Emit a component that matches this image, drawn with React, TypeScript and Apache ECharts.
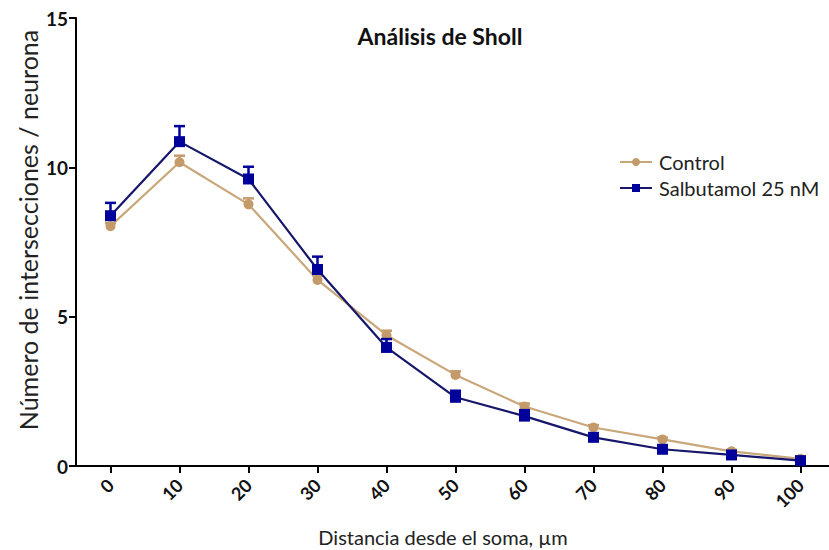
import React, { useEffect, useRef } from "react";
import * as echarts from "echarts";

const distances = [0, 10, 20, 30, 40, 50, 60, 70, 80, 90, 100];
const controlMean = [8.03, 10.17, 8.76, 6.23, 4.38, 3.05, 1.99, 1.29, 0.89, 0.49, 0.24];
const controlSem = [0.1, 0.22, 0.2, 0.15, 0.15, 0.12, 0.1, 0.08, 0.06, 0.05, 0.04];
const salbMean = [8.38, 10.86, 9.61, 6.58, 3.97, 2.3, 1.67, 0.96, 0.56, 0.37, 0.18];
const salbSem = [0.43, 0.52, 0.41, 0.43, 0.28, 0.22, 0.2, 0.12, 0.08, 0.06, 0.05];
const yTicks = [0, 5, 10, 15];

const TITLE = "Análisis de Sholl";
const X_NAME = "Distancia desde el soma, µm";
const Y_NAME = "Número de intersecciones / neurona";

const FONT = "Lato";
const CONTROL_LINE = "#c9a77a";
const CONTROL_MARK = "#c49a6a";
const SALB_LINE = "#16166a";
const SALB_MARK = "#00009a";

function errorSeries(means: number[], sems: number[], color: string, z: number) {
  return {
    type: "custom",
    z,
    silent: true,
    data: distances.map((d, i) => [d, means[i], sems[i]]),
    renderItem: (_params: any, api: any) => {
      const x = api.value(0);
      const y = api.value(1);
      const e = api.value(2);
      const p = api.coord([x, y]);
      const t = api.coord([x, y + e]);
      return {
        type: "group",
        children: [
          { type: "line", shape: { x1: p[0], y1: p[1], x2: t[0], y2: t[1] }, style: { stroke: color, lineWidth: 2.5 } },
          { type: "line", shape: { x1: t[0] - 5.5, y1: t[1], x2: t[0] + 5.5, y2: t[1] }, style: { stroke: color, lineWidth: 2.5 } },
        ],
      };
    },
  };
}

export default function App() {
  const ref = useRef<HTMLDivElement>(null);
  useEffect(() => {
    if (!ref.current) return;
    const chart = echarts.init(ref.current, undefined, { renderer: "svg" });
    chart.setOption({
      animation: false,
      backgroundColor: "#ffffff",
      graphic: [
        {
          type: "text",
          x: 440,
          y: 36,
          style: {
            text: TITLE,
            fontFamily: FONT,
            fontSize: 23,
            fontWeight: "bold",
            fill: "#111",
            align: "center",
            verticalAlign: "middle",
          },
        },
        {
          type: "text",
          x: 443,
          y: 537,
          style: {
            text: X_NAME,
            fontFamily: FONT,
            fontSize: 20,
            fill: "#222",
            align: "center",
            verticalAlign: "middle",
          },
        },
        {
          type: "text",
          x: 28,
          y: 230,
          rotation: Math.PI / 2,
          style: {
            text: Y_NAME,
            fontFamily: FONT,
            fontSize: 25,
            fill: "#222",
            align: "center",
            verticalAlign: "middle",
          },
        },
      ],
      legend: {
        left: 614,
        top: 147,
        orient: "vertical",
        itemGap: 6,
        itemWidth: 32,
        itemHeight: 10,
        data: ["Control", "Salbutamol 25 nM"],
        textStyle: { fontFamily: FONT, fontSize: 20, color: "#222", padding: [0, 0, 0, 2] },
      },
      grid: { left: 76, top: 18, width: 759, height: 448, containLabel: false, outerBoundsMode: "none" },
      xAxis: {
        type: "value",
        min: -5,
        max: 105,
        splitLine: { show: false },
        axisLine: { show: true, onZero: false, lineStyle: { color: "#000", width: 2 } },
        axisTick: { show: true, customValues: distances, length: 7, lineStyle: { color: "#000", width: 2 } },
        axisLabel: {
          customValues: distances,
          rotate: 45,
          fontFamily: FONT,
          fontSize: 18,
          fontWeight: "bold",
          color: "#111",
          margin: 16,
        },
      },
      yAxis: {
        type: "value",
        min: 0,
        max: 15,
        interval: 5,
        splitLine: { show: false },
        axisLine: { show: true, onZero: false, lineStyle: { color: "#000", width: 2 } },
        axisTick: { show: true, length: 7, lineStyle: { color: "#000", width: 2 } },
        axisLabel: {
          customValues: yTicks,
          fontFamily: FONT,
          fontSize: 19,
          fontWeight: "bold",
          color: "#111",
          margin: 8,
        },
      },
      series: [
        errorSeries(controlMean, controlSem, CONTROL_MARK, 1),
        errorSeries(salbMean, salbSem, SALB_MARK, 3),
        {
          name: "Control",
          type: "line",
          z: 2,
          data: distances.map((d, i) => [d, controlMean[i]]),
          symbol: "circle",
          symbolSize: 10,
          lineStyle: { color: CONTROL_LINE, width: 2.2 },
          itemStyle: { color: CONTROL_MARK },
        },
        {
          name: "Salbutamol 25 nM",
          type: "line",
          z: 4,
          data: distances.map((d, i) => [d, salbMean[i]]),
          symbol: "rect",
          symbolSize: 11,
          lineStyle: { color: SALB_LINE, width: 2.2 },
          itemStyle: { color: SALB_MARK },
        },
      ],
    });
    return () => chart.dispose();
  }, []);
  return (
    <div
      ref={ref}
      style={{ position: "fixed", left: 0, top: 0, width: 829, height: 550, background: "#fff" }}
    />
  );
}
